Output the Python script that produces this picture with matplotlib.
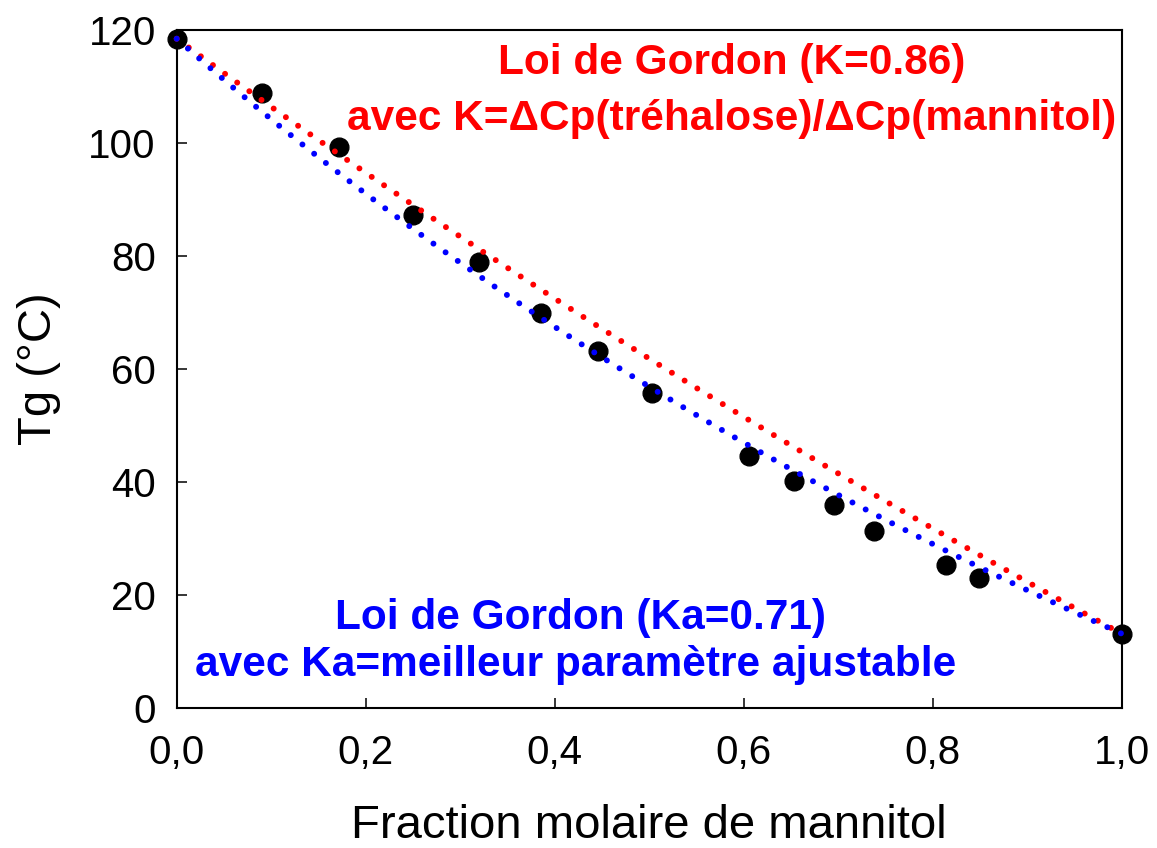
import numpy as np
import matplotlib
matplotlib.use("Agg")
import matplotlib.pyplot as plt

# Experimental data: molar fraction of mannitol vs Tg (°C)
x_mannitol = [0.0, 0.090, 0.172, 0.250, 0.320, 0.385, 0.446, 0.503,
              0.606, 0.653, 0.696, 0.738, 0.814, 0.849, 1.0]
tg_values = [118.4, 108.8, 99.2, 87.2, 78.9, 69.8, 63.1, 55.7,
             44.5, 40.2, 35.8, 31.2, 25.3, 22.9, 13.1]

# Gordon law parameters
tg_trehalose = 118.4
tg_mannitol = 13.1
k_theory = 0.86   # K = dCp(trehalose)/dCp(mannitol)
k_fit = 0.71      # best adjustable parameter

x_ticks = [0.0, 0.2, 0.4, 0.6, 0.8, 1.0]
x_ticklabels = ["0,0", "0,2", "0,4", "0,6", "0,8", "1,0"]
y_ticks = [0, 20, 40, 60, 80, 100, 120]


def gordon(x, k):
    x = np.asarray(x)
    return (x * tg_mannitol + k * (1 - x) * tg_trehalose) / (x + k * (1 - x))


plt.rcParams['font.family'] = ['Liberation Sans', 'DejaVu Sans']

fig = plt.figure(figsize=(11.57, 8.48), dpi=100)
ax = fig.add_axes([176.7 / 1157, 1 - 707.7 / 848, (1121.7 - 176.7) / 1157, (707.7 - 29.7) / 848])

xs = np.linspace(0, 1, 400)
ax.plot(x_mannitol, tg_values, 'o', color='black', markersize=13.5, zorder=2, clip_on=False)
ax.plot(xs, gordon(xs, k_theory), color='#ff0000', lw=4.3,
        linestyle=(0, (0.001, 2.5)), dash_capstyle='round', zorder=3, clip_on=False)
ax.plot(xs, gordon(xs, k_fit), color='#0000ff', lw=4.3,
        linestyle=(0, (0.001, 2.5)), dash_capstyle='round', zorder=4, clip_on=False)

ax.set_xlim(0, 1)
ax.set_ylim(0, 120)
ax.set_xticks(x_ticks)
ax.set_xticklabels(x_ticklabels)
ax.set_yticks(y_ticks)
ax.tick_params(direction='in', length=7, width=1.1, labelsize=29)
ax.tick_params(axis='y', pad=15)
ax.tick_params(axis='x', pad=19)
for s in ax.spines.values():
    s.set_linewidth(1.5)

ax.set_xlabel("Fraction molaire de mannitol", fontsize=34, labelpad=23)
ax.set_ylabel("Tg (°C)", fontsize=34, labelpad=20)

ax.text(0.587, 112.2, "Loi de Gordon (K=0.86)", color='#ff0000', fontsize=30.5,
        fontweight='bold', ha='center', va='baseline')
ax.text(0.587, 102.3, "avec K=ΔCp(tréhalose)/ΔCp(mannitol)", color='#ff0000', fontsize=30.5,
        fontweight='bold', ha='center', va='baseline')
ax.text(0.427, 14.0, "Loi de Gordon (Ka=0.71)", color='#0000ff', fontsize=30.5,
        fontweight='bold', ha='center', va='baseline')
ax.text(0.422, 5.6, "avec Ka=meilleur paramètre ajustable", color='#0000ff', fontsize=30.5,
        fontweight='bold', ha='center', va='baseline')

fig.savefig("out.png", dpi=100)
